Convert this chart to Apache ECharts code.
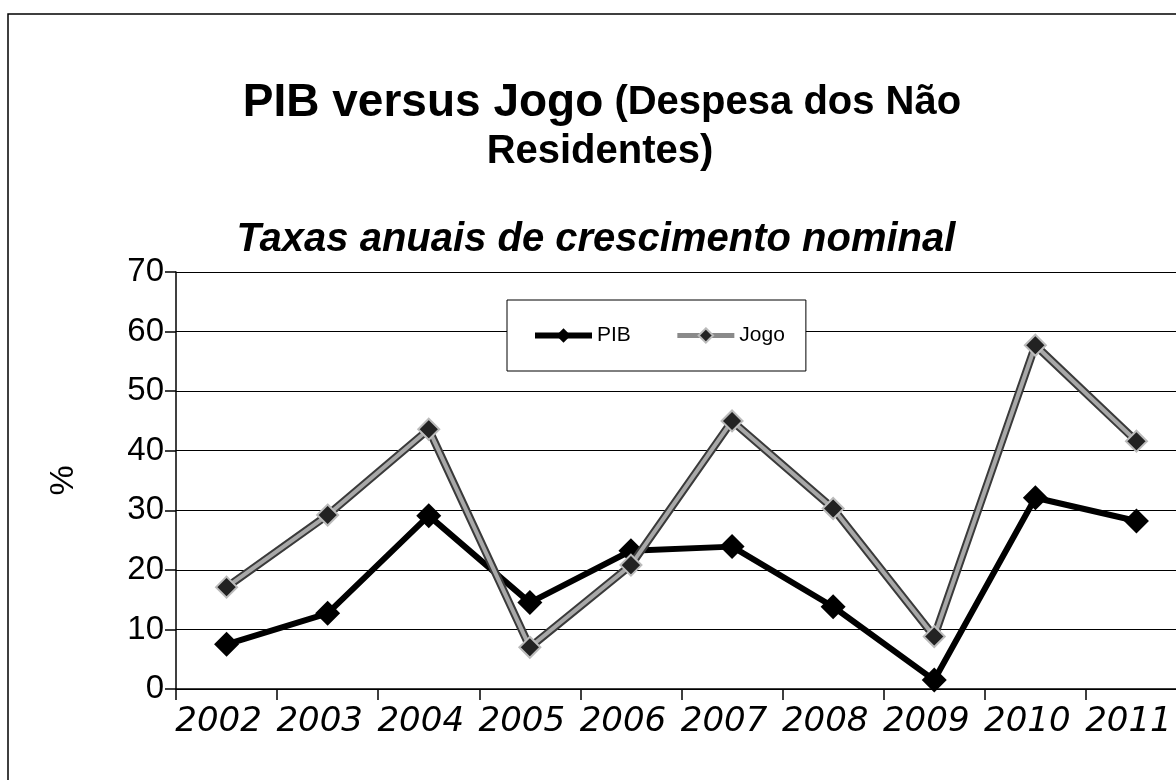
<!DOCTYPE html>
<html>
<head>
<meta charset="utf-8">
<script src="https://cdn.jsdelivr.net/npm/echarts@6/dist/echarts.min.js"></script>
<style>
  html, body { margin: 0; padding: 0; background: #fff; }
  #chart { width: 1176px; height: 780px; }
</style>
</head>
<body>
<div id="chart"></div>
<script>
// anos
var years = ['2002', '2003', '2004', '2005', '2006', '2007', '2008', '2009', '2010', '2011'];
// taxas anuais (%)
var pib  = [7.5, 12.7, 29.1, 14.5, 23.2, 23.9, 13.8, 1.5, 32.1, 28.2];
var jogo = [17.1, 29.2, 43.6, 7.0, 20.8, 45.0, 30.3, 8.8, 57.7, 41.6];
var yTicks = [0, 10, 20, 30, 40, 50, 60, 70];

var chart = echarts.init(document.getElementById('chart'));

var option = {
  animation: false,
  backgroundColor: '#fff',
  graphic: [
    {
      // moldura
      type: 'rect',
      shape: { x: 8, y: 14, width: 1200, height: 800 },
      style: { fill: 'none', stroke: '#000', lineWidth: 1.5 },
      z: 0
    },
    {
      type: 'text',
      x: 602, y: 103,
      style: {
        text: '{a|PIB versus Jogo}{b| (Despesa dos Não}',
        textAlign: 'center',
        textVerticalAlign: 'middle',
        rich: {
          a: { fontFamily: 'Liberation Sans', fontWeight: 'bold', fontSize: 46, fill: '#000' },
          b: { fontFamily: 'Liberation Sans', fontWeight: 'bold', fontSize: 40, fill: '#000' }
        }
      }
    },
    {
      type: 'text',
      x: 600, y: 152,
      style: {
        text: 'Residentes)',
        textAlign: 'center',
        textVerticalAlign: 'middle',
        fontFamily: 'Liberation Sans', fontWeight: 'bold', fontSize: 40, fill: '#000'
      }
    },
    {
      type: 'text',
      x: 596, y: 240,
      style: {
        text: 'Taxas anuais de crescimento nominal',
        textAlign: 'center',
        textVerticalAlign: 'middle',
        fontFamily: 'Liberation Sans', fontWeight: 'bold', fontStyle: 'italic', fontSize: 40, fill: '#000'
      }
    }
  ],
  legend: {
    data: [
      { name: 'PIB', lineStyle: { width: 6 } },
      { name: 'Jogo', lineStyle: { width: 5, color: '#8a8a8a' } }
    ],
    left: 507,
    top: 300,
    orient: 'horizontal',
    padding: [25, 21, 25, 25],
    itemGap: 44,
    itemWidth: 57,
    itemHeight: 18,
    backgroundColor: '#fff',
    borderColor: '#000',
    borderWidth: 1,
    borderRadius: 0,
    textStyle: { fontFamily: 'Liberation Sans', fontSize: 21, color: '#000' }
  },
  grid: {
    left: 176,
    top: 272,
    width: 1011,
    bottom: 91,
    outerBoundsMode: 'none',
    containLabel: false
  },
  xAxis: {
    type: 'category',
    data: years,
    boundaryGap: true,
    axisLine: { lineStyle: { color: '#000', width: 1.5 } },
    axisTick: { show: true, length: 11, lineStyle: { color: '#000', width: 1.5 } },
    axisLabel: {
      interval: 0,
      fontFamily: 'DejaVu Sans',
      fontStyle: 'italic',
      fontSize: 34,
      color: '#000',
      margin: 16,
      padding: [0, 16, 0, 0]
    }
  },
  yAxis: {
    type: 'value',
    min: yTicks[0],
    max: yTicks[yTicks.length - 1],
    interval: 10,
    name: '%',
    nameLocation: 'middle',
    nameRotate: 90,
    nameGap: 95,
    nameTextStyle: { fontFamily: 'Liberation Sans', fontSize: 34, color: '#000' },
    axisLine: { show: true, lineStyle: { color: '#000', width: 1.5 } },
    axisTick: { show: true, length: 11, lineStyle: { color: '#000', width: 1.5 } },
    axisLabel: {
      fontFamily: 'Liberation Sans',
      fontSize: 33,
      color: '#000',
      margin: 12
    },
    splitLine: { lineStyle: { color: '#000', width: 1.2 } }
  },
  series: [
    {
      name: 'PIB',
      type: 'line',
      data: pib,
      symbol: 'diamond',
      symbolSize: 25,
      lineStyle: { color: '#000', width: 6 },
      itemStyle: { color: '#000' },
      z: 3
    },
    {
      // contorno escuro da linha Jogo
      name: 'Jogo_contorno',
      type: 'line',
      data: jogo,
      symbol: 'none',
      silent: true,
      lineStyle: { color: '#3a3a3a', width: 8 },
      z: 4
    },
    {
      name: 'Jogo',
      type: 'line',
      data: jogo,
      symbol: 'diamond',
      symbolSize: 21,
      lineStyle: { color: '#a8a8a8', width: 4 },
      itemStyle: { color: '#222', borderColor: '#bbb', borderWidth: 2 },
      z: 5
    }
  ]
};

chart.setOption(option);
</script>
</body>
</html>
